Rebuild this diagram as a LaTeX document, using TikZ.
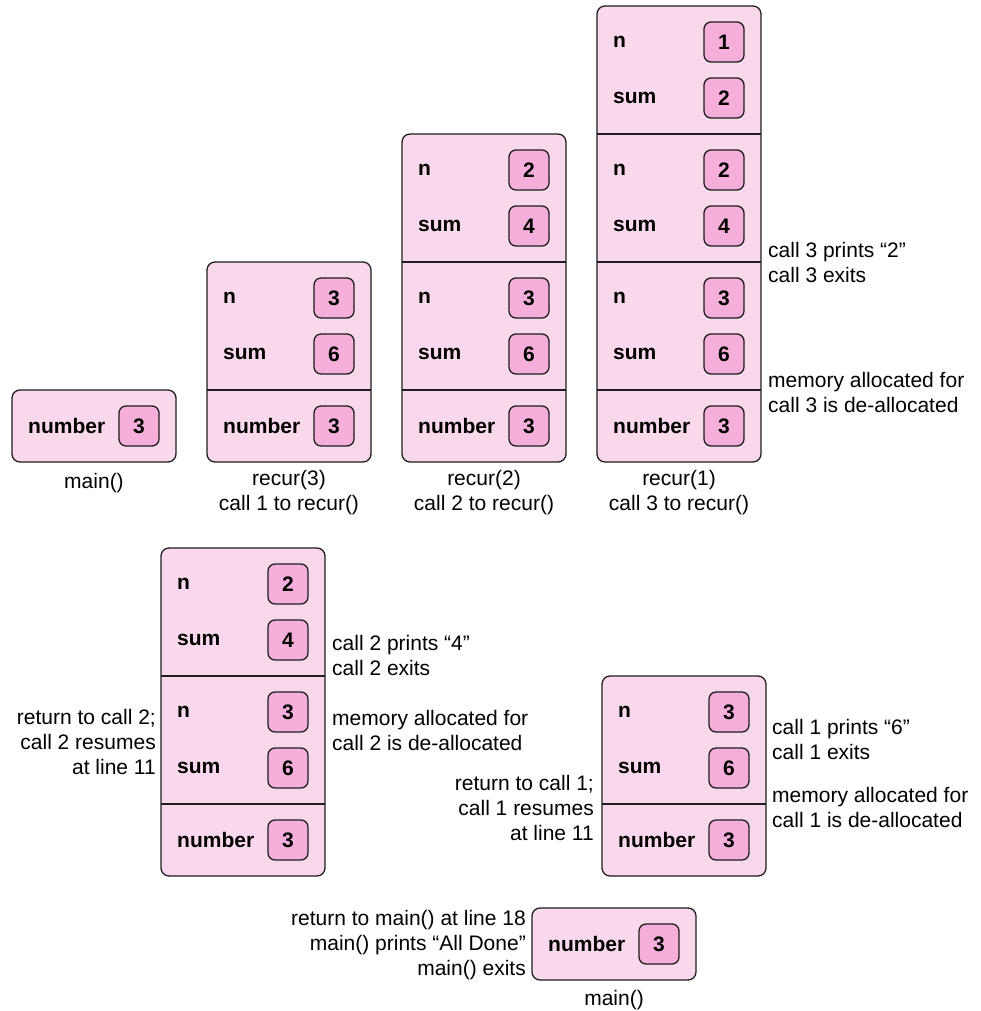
\documentclass[tikz,border=0pt]{standalone}
\usepackage{fontspec}
\setmainfont{Liberation Sans}
\definecolor{outerpink}{RGB}{249,216,235}
\definecolor{innerpink}{RGB}{246,174,218}
\definecolor{edge}{RGB}{30,30,30}
\tikzset{
  frame/.style={draw=edge, line width=1.3pt, fill=outerpink, rounded corners=8pt, inner sep=0pt, minimum width=164pt},
  valbox/.style={draw=edge, line width=1.3pt, fill=innerpink, rounded corners=7pt, minimum width=40pt, minimum height=40pt, inner sep=0pt, font=\fontsize{21}{25}\selectfont\bfseries},
  varname/.style={anchor=west, inner sep=0pt, font=\fontsize{21}{25}\selectfont\bfseries},
  note/.style={inner sep=0pt, font=\fontsize{21}{25}\selectfont},
  divider/.style={draw=edge, line width=1.3pt},
}
% #1 name, #2 left x of frame, #3 y, #4 label, #5 value
\newcommand\varrow[5]{%
  \node[varname] (#1l) at (#2+16,#3) {#4};
  \node[valbox] (#1v) at (#2+127,#3) {#5};
}
\begin{document}
\begin{tikzpicture}[x=1pt,y=-1pt]
\useasboundingbox (0,0) rectangle (980,1011);

% ---- main() (top) ----
\node[frame, minimum height=72pt] (ma) at (94,426) {};
\varrow{maA}{12}{426}{number}{3}
\node[note] (maT) at (94,483) {main()};

% ---- recur(3) ----
\node[frame, minimum height=200pt] (sb) at (289,362) {};
\draw[divider] (207,390) -- (371,390);
\varrow{sbA}{207}{298}{n}{3}
\varrow{sbB}{207}{354}{sum}{6}
\varrow{sbC}{207}{426}{number}{3}
\node[note, align=center] (sbT) at (289,493) {recur(3)\\call 1 to recur()};

% ---- recur(2) ----
\node[frame, minimum height=328pt] (sc) at (484,298) {};
\draw[divider] (402,262) -- (566,262);
\draw[divider] (402,390) -- (566,390);
\varrow{scA}{402}{170}{n}{2}
\varrow{scB}{402}{226}{sum}{4}
\varrow{scC}{402}{298}{n}{3}
\varrow{scD}{402}{354}{sum}{6}
\varrow{scE}{402}{426}{number}{3}
\node[note, align=center] (scT) at (484,493) {recur(2)\\call 2 to recur()};

% ---- recur(1) ----
\node[frame, minimum height=456pt] (sd) at (679,234) {};
\draw[divider] (597,134) -- (761,134);
\draw[divider] (597,262) -- (761,262);
\draw[divider] (597,390) -- (761,390);
\varrow{sdA}{597}{42}{n}{1}
\varrow{sdB}{597}{98}{sum}{2}
\varrow{sdC}{597}{170}{n}{2}
\varrow{sdD}{597}{226}{sum}{4}
\varrow{sdE}{597}{298}{n}{3}
\varrow{sdF}{597}{354}{sum}{6}
\varrow{sdG}{597}{426}{number}{3}
\node[note, align=center] (sdT) at (679,493) {recur(1)\\call 3 to recur()};
\node[note, anchor=west, align=left] (sdN1) at (768,262) {call 3 prints “2”\\call 3 exits};
\node[note, anchor=west, align=left] (sdN2) at (768,392) {memory allocated for\\call 3 is de-allocated};

% ---- bottom left stack ----
\node[frame, minimum height=328pt] (se) at (243,712) {};
\draw[divider] (161,676) -- (325,676);
\draw[divider] (161,804) -- (325,804);
\varrow{seA}{161}{584}{n}{2}
\varrow{seB}{161}{640}{sum}{4}
\varrow{seC}{161}{712}{n}{3}
\varrow{seD}{161}{768}{sum}{6}
\varrow{seE}{161}{840}{number}{3}
\node[note, anchor=west, align=left] (seN1) at (332,655) {call 2 prints “4”\\call 2 exits};
\node[note, anchor=west, align=left] (seN2) at (332,730) {memory allocated for\\call 2 is de-allocated};
\node[note, anchor=east, align=right] (seN3) at (156,742) {return to call 2;\\call 2 resumes\\at line 11};

% ---- bottom right stack ----
\node[frame, minimum height=200pt] (sf) at (684,776) {};
\draw[divider] (602,804) -- (766,804);
\varrow{sfA}{602}{712}{n}{3}
\varrow{sfB}{602}{768}{sum}{6}
\varrow{sfC}{602}{840}{number}{3}
\node[note, anchor=west, align=left] (sfN1) at (772,739) {call 1 prints “6”\\call 1 exits};
\node[note, anchor=west, align=left] (sfN2) at (772,807) {memory allocated for\\call 1 is de-allocated};
\node[note, anchor=east, align=right] (sfN3) at (594,808) {return to call 1;\\call 1 resumes\\at line 11};

% ---- main() (bottom) ----
\node[frame, minimum height=72pt] (mb) at (614,944) {};
\varrow{mbA}{532}{944}{number}{3}
\node[note] (mbT) at (614,1000) {main()};
\node[note, anchor=east, align=right] (mbN) at (526,945) {return to main() at line 18\\main() prints “All Done”\\main() exits};
\end{tikzpicture}
\end{document}
